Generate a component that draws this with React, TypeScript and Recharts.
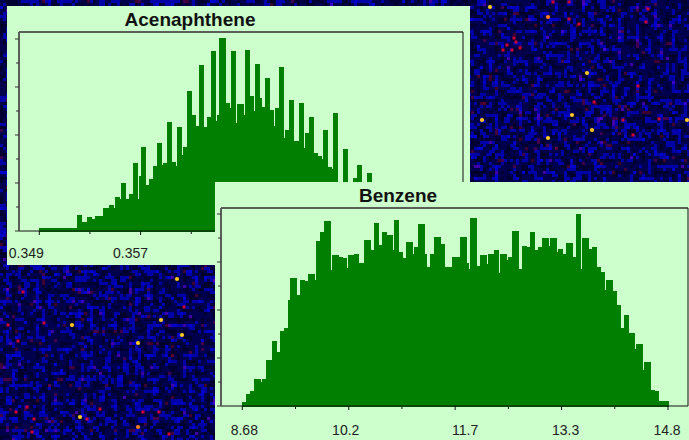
import React from 'react';
import { BarChart, Bar, XAxis, YAxis, ReferenceLine } from 'recharts';

// bin heights, one value per narrow bin
const acenaphtheneValues = [
  3, 3, 3, 3, 3, 3, 3, 3, 3, 3, 3, 3, 3, 3, 3, 3, 3, 3, 3,
  15.7, 15.7, 8.7, 8.7, 8.7, 14, 14, 11.7, 11.7, 14.3, 14.3, 14.3, 14.3, 22.7, 22.7, 22.7, 25.3, 25.3, 22.7,
  33.3, 33.3, 32, 47.7, 47.7, 32, 32, 36.3, 36.3, 67.3, 67.3, 32, 54.3, 83.7, 83.7, 46, 46, 52, 52, 64.3, 64.3,
  87.7, 87.7, 66, 67.3, 67.3, 109, 109, 68.3, 68.3, 64.3, 103.7, 103.7, 75.3, 84, 84, 139.3, 139.3, 116, 116,
  104.7, 104.7, 165.3, 165.3, 103.3, 103.3, 113.3, 113.3, 180, 180, 109.3, 116, 192.7, 192.7, 192.7, 128, 128,
  122.3, 180, 180, 107.7, 126.7, 126.7, 126.7, 116, 181, 181, 135, 135, 119.7, 166.7, 166.7, 132.3, 124, 124,
  152.3, 152.3, 121, 121, 105, 122.7, 122.7, 163.3, 163.3, 92.3, 100.7, 100.7, 131, 131, 89.3, 89.3, 89.3,
  128, 128, 82.3, 97.7, 97.7, 113.3, 113.3, 77.7, 77.7, 75, 75, 71.7, 100.7, 100.7, 63.3, 63.3, 61.7, 117.3, 117.3,
  40, 40, 40, 82, 82, 30, 30, 30, 53, 53, 66, 66, 30, 30, 30, 57.3, 57.3,
];

const benzeneValues = [
  3.3, 3.3, 11.3, 11.3, 14.7, 14.7, 27, 27, 27, 23.7, 27, 27, 45.7, 45.7, 45.7, 64.3, 64.3, 53.3, 53.3,
  74.3, 74.3, 77.7, 77.7, 106, 127.3, 127.3, 127.3, 110.3, 110.3, 126, 126, 124.7, 124.7, 132, 132, 132, 126,
  164.3, 164.3, 173.7, 173.7, 184.7, 184.7, 184.7, 135.3, 150.3, 150.3, 150.3, 149, 149, 147.7, 147.7, 137.3,
  150.7, 150.7, 150.7, 152, 152, 143, 143, 143, 166, 166, 166, 155.3, 155.3, 183, 183, 160.3, 160.3, 173.7, 173.7,
  170.3, 170.3, 170.3, 155.3, 186, 186, 153.7, 153.7, 147.3, 147.3, 163.3, 163.3, 163.3, 152, 158.7, 158.7,
  181.7, 181.7, 181.7, 152, 138.7, 138.7, 152, 152, 169, 169, 169, 161.7, 161.7, 138.7, 138.7, 138.7, 138.7,
  149, 149, 149, 149, 169, 169, 169, 143, 136.7, 187.3, 187.3, 187.3, 140, 140, 150.3, 150.3, 150.3, 141.7,
  152, 152, 152, 155.3, 155.3, 132.3, 152, 152, 152, 146, 149, 149, 174.3, 174.3, 174.3, 136.7, 136.7, 160, 160,
  158.3, 158.3, 173.3, 173.3, 155.3, 155.3, 158.3, 158.3, 167.3, 167.3, 167.3, 160, 167.3, 167.3, 167.3, 153.7,
  157, 157, 152, 152, 163, 163, 163, 149, 149, 192, 192, 136.7, 167.7, 167.7, 167.7, 157, 157, 158.3, 158.3,
  138.3, 138.3, 133.3, 133.3, 116, 125.7, 125.7, 125.7, 114.7, 114.7, 100.3, 100.3, 78, 78, 90.3, 90.3,
  73, 73, 73, 56.3, 62, 62, 62, 36, 43.3, 43.3, 43.3, 16, 16, 14.7, 14.7, 4.7, 4.7, 4.7, 4.7, 4.7,
];

const acenaphtheneTicks = [0.349, 0.353, 0.357, 0.361, 0.365, 0.369, 0.373, 0.377, 0.381];
const benzeneTicks = [8.68, 9.445, 10.21, 10.975, 11.74, 12.505, 13.27, 14.035, 14.8];
const countTicks = [0, 24, 48, 72, 96, 120, 144, 168, 192];

// label nudges, the source picture does not centre them on the tick
const acenaphtheneShift = [-13, 0, -10, 0, 0, 0, 0, 0, 0];
const benzeneShift = [2, 0, -3, 0, 10, 0, 4, 0, -1];

// bright speckles of the map behind the charts
const yellowStars = [
  [490, 7], [587, 73], [572, 115], [482, 120], [592, 130], [548, 138], [687, 120],
  [177, 279], [161, 320], [182, 335], [138, 343], [72, 325], [80, 417],
];
const orangeStars = [[548, 17], [138, 427]];
const redStars = [
  [507, 45], [512, 50], [516, 42], [503, 50], [520, 48], [514, 38], [648, 9], [646, 22], [579, 24], [569, 19],
  [638, 86], [659, 119], [594, 102], [623, 120], [633, 135], [553, 2], [569, 2],
  [23, 292], [44, 323], [8, 325], [18, 341], [100, 409], [32, 432], [27, 407], [34, 419], [16, 412],
  [143, 412], [159, 412], [169, 434], [184, 307], [87, 419],
];

const GREEN = '#007f00';
const PANEL = '#ccffcc';
const GREY = '#5a5f5a';

const toTable = (values: number[], start: number, pxUnit: number) =>
  values.map((value, i) => ({ x: start + (i + 0.5) * 2 * pxUnit, value }));

const Background = () => (
  <svg width={689} height={440} style={{ position: 'absolute', left: 0, top: 0 }}>
    <defs>
      <filter id="noise" x="0" y="0" width="100%" height="100%" colorInterpolationFilters="sRGB">
        <feTurbulence type="fractalNoise" baseFrequency="0.17" numOctaves={2} seed={23} result="t" />
        <feColorMatrix
          in="t"
          type="matrix"
          values="0 1 0 0 0  0 0 0 0 0  1 0 0 0 0  0 0 0 0 1"
          result="m"
        />
        <feComponentTransfer in="m" result="c">
          <feFuncR type="discrete" tableValues="0 0 0 0 0 0.25 0.35" />
          <feFuncB type="discrete" tableValues="0.16 0.16 0.2 0.3 0.66 0.8 0.8" />
        </feComponentTransfer>
        <feFlood x="1" y="1" width="1" height="1" floodColor="#000" />
        <feComposite width="3" height="3" />
        <feTile result="a" />
        <feComposite in="c" in2="a" operator="in" />
        <feMorphology operator="dilate" radius={1} />
      </filter>
      <filter id="soft" x="-100%" y="-100%" width="300%" height="300%">
        <feGaussianBlur stdDeviation="0.6" />
      </filter>
    </defs>
    <rect width={689} height={440} fill="#00006a" filter="url(#noise)" />
    <g filter="url(#soft)">
      {redStars.map(([x, y], i) => (
        <rect key={i} x={x - 1.5} y={y - 1.5} width={3} height={3} fill="#d00030" />
      ))}
      {orangeStars.map(([x, y], i) => (
        <circle key={i} cx={x} cy={y} r={2.1} fill="#ff7a20" />
      ))}
      {yellowStars.map(([x, y], i) => (
        <circle key={i} cx={x} cy={y} r={2.1} fill="#ffc820" />
      ))}
    </g>
  </svg>
);

const xTick = (shift: number[], labelY: number) => (props: any) => {
  const { x, y, index, payload } = props;
  const major = index % 2 === 0;
  return (
    <g>
      <line x1={x} x2={x} y1={major ? y : y + 1} y2={major ? y + 4 : y + 3} stroke="#111" strokeWidth={1} />
      {major && (
        <text
          x={x + shift[index]}
          y={y + labelY}
          textAnchor="middle"
          fontFamily="Liberation Sans"
          fontSize={14}
          fill="#222"
        >
          {Number(payload.value).toPrecision(3)}
        </text>
      )}
    </g>
  );
};

const yTick = (side: number) => (props: any) => {
  const { x, y, index } = props;
  const len = index % 2 === 0 ? 4 : 3;
  return <line x1={x} x2={x + side * len} y1={y} y2={y} stroke="#333" strokeWidth={1} />;
};

const Histogram = ({ width, height, left, right, plotHeight, data, domain, ticks, shift, labelY }: any) => (
  <BarChart
    width={width}
    height={height}
    data={data}
    barCategoryGap={0}
    margin={{ top: 26, right: 0, bottom: 0, left: 0 }}
    style={{ position: 'absolute', left: 0, top: 0 }}
  >
    <XAxis
      type="number"
      dataKey="x"
      domain={domain}
      ticks={ticks}
      interval={0}
      height={height - 26 - plotHeight}
      tickLine={false}
      tickSize={0}
      tickMargin={0}
      axisLine={{ stroke: '#111', strokeWidth: 1 }}
      tick={xTick(shift, labelY)}
      allowDataOverflow
    />
    <YAxis
      yAxisId="left"
      width={left}
      domain={[0, plotHeight]}
      ticks={countTicks}
      interval={0}
      tickLine={false}
      tickSize={0}
      tickMargin={0}
      axisLine={{ stroke: GREY, strokeWidth: 2 }}
      tick={yTick(-1)}
    />
    <YAxis
      yAxisId="right"
      orientation="right"
      width={right}
      domain={[0, plotHeight]}
      ticks={countTicks}
      interval={0}
      tickLine={false}
      tickSize={0}
      tickMargin={0}
      axisLine={{ stroke: '#111', strokeWidth: 1 }}
      tick={yTick(1)}
    />
    <ReferenceLine yAxisId="left" y={plotHeight} stroke={GREY} strokeWidth={2} />
    <Bar
      yAxisId="left"
      dataKey="value"
      fill={GREEN}
      stroke={GREEN}
      strokeWidth={1}
      shapeRendering="crispEdges"
      barSize={2}
      isAnimationActive={false}
    />
  </BarChart>
);

const Panel = ({ left, top, width, height, title, children }: any) => (
  <div style={{ position: 'absolute', left, top, width, height, background: PANEL }}>
    <div
      style={{
        position: 'absolute',
        left: 0,
        top: 3,
        width: 366,
        textAlign: 'center',
        fontFamily: 'Liberation Sans',
        fontWeight: 'bold',
        fontSize: 19,
        lineHeight: '22px',
        color: '#111',
      }}
    >
      {title}
    </div>
    {children}
  </div>
);

// pixel to axis unit, taken from the tick spacing in each chart
const acenUnit = 0.008 / 101.3;
const benzUnit = 6.12 / 425.7;

const App = () => {
  const acenData = toTable(acenaphtheneValues, 0.349, acenUnit);
  const benzData = toTable(benzeneValues, 8.68, benzUnit);
  return (
    <div style={{ position: 'absolute', left: 0, top: 0, width: 689, height: 440, overflow: 'hidden' }}>
      <Background />
      <Panel left={7} top={6} width={463} height={259} title="Acenaphthene">
        <Histogram
          width={463}
          height={259}
          left={12}
          right={7}
          plotHeight={199}
          data={acenData}
          domain={[0.349 - 20.3 * acenUnit, 0.349 + 423.7 * acenUnit]}
          ticks={acenaphtheneTicks}
          shift={acenaphtheneShift}
          labelY={27}
        />
      </Panel>
      <Panel left={215} top={182} width={474} height={258} title="Benzene">
        <Histogram
          width={474}
          height={258}
          left={6}
          right={1}
          plotHeight={198}
          data={benzData}
          domain={[8.68 - 21.3 * benzUnit, 8.68 + 445.7 * benzUnit]}
          ticks={benzeneTicks}
          shift={benzeneShift}
          labelY={29}
        />
      </Panel>
    </div>
  );
};

export default App;
